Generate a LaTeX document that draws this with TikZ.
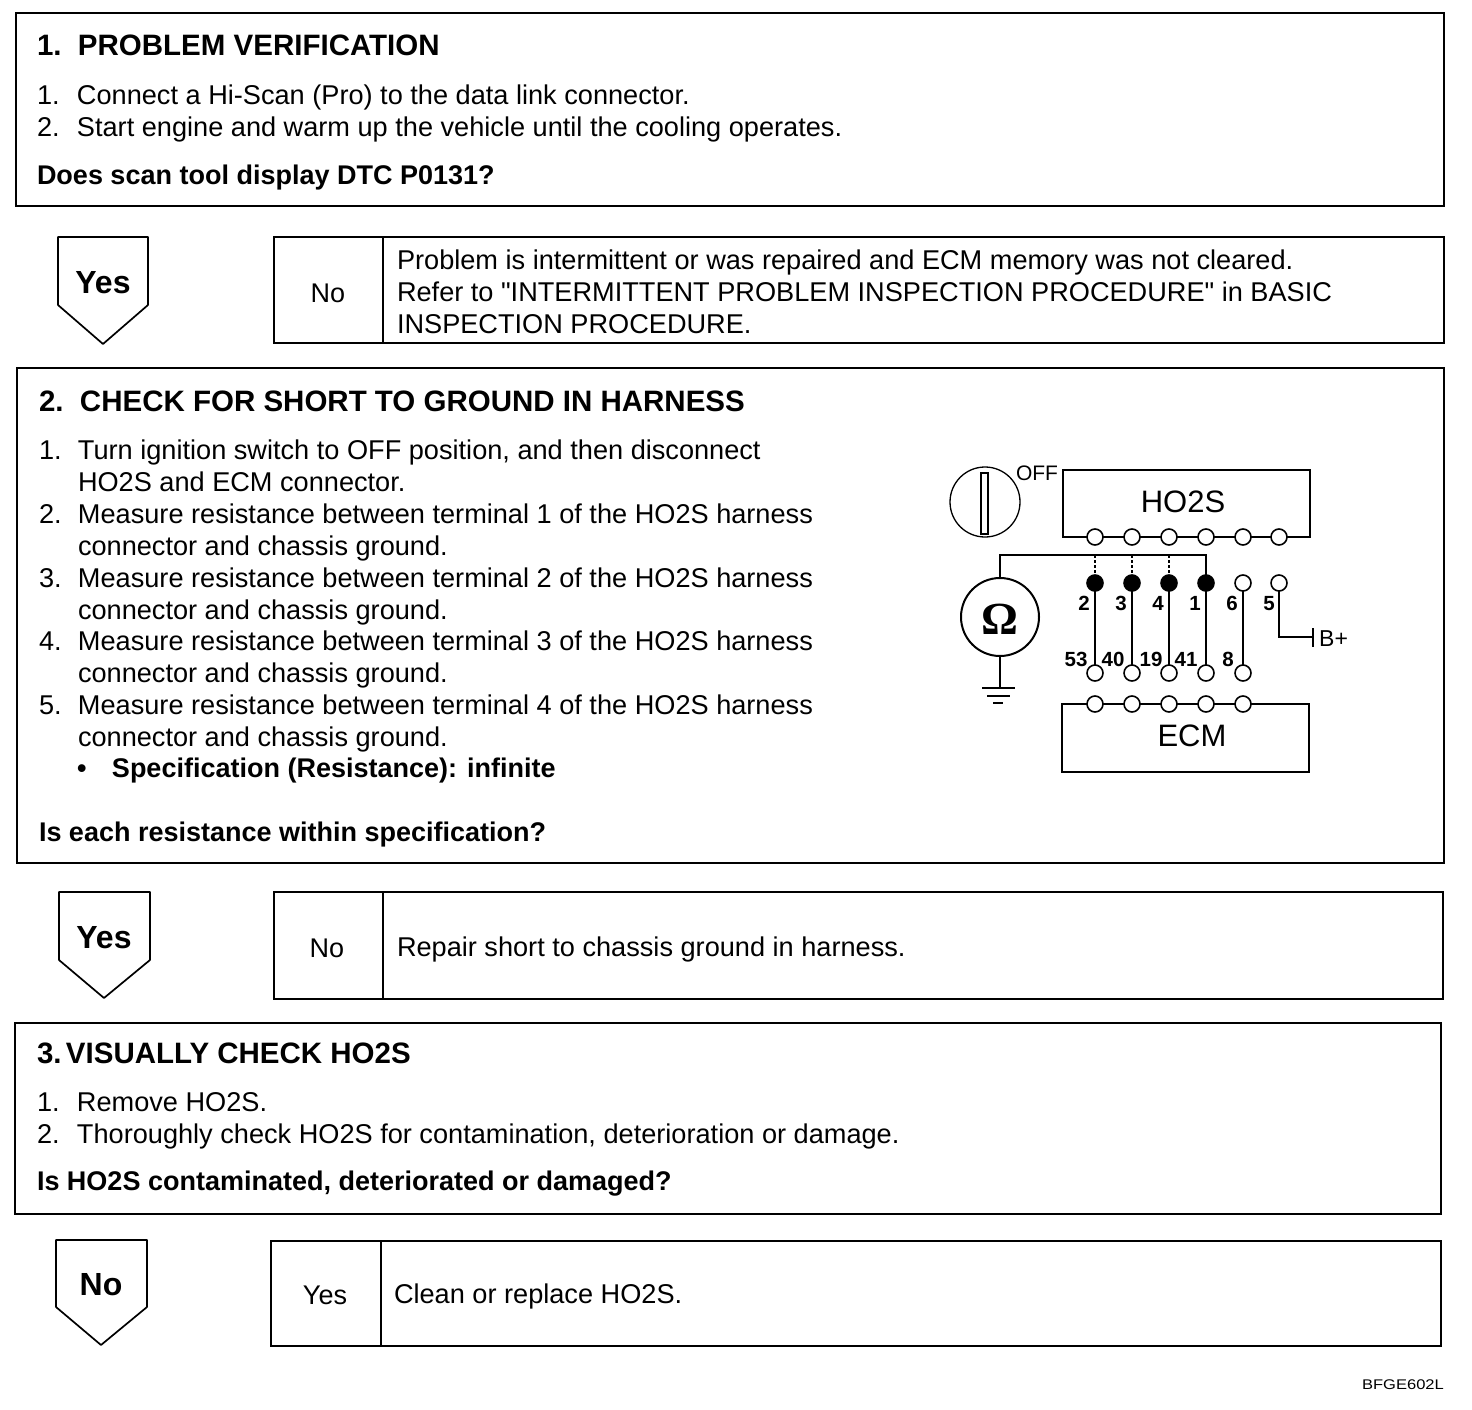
\documentclass[tikz,border=0pt]{standalone}
\usepackage{fontspec}
\setmainfont{Liberation Sans}
\newfontfamily\symfont{Liberation Serif}
\newfontfamily\rawfont{Liberation Sans}
\newcommand{\itm}[2]{\makebox[#1pt][l]{#2}}
\newcommand{\qmark}{{\rawfont "}}
\tikzset{
  x=1pt,y=-1pt,
  panel/.style={draw=black,line width=1.7pt,fill=white,rectangle,inner sep=0pt,outer sep=0pt},
  rule/.style={draw=black,line width=1.7pt},
  body/.style={anchor=base west,inner sep=0pt,outer sep=0pt,font=\fontsize{27.15}{28}\selectfont},
  boldbody/.style={body,font=\fontsize{27}{28}\selectfont\bfseries},
  heading/.style={body,font=\fontsize{29.5}{32}\selectfont\bfseries},
  answer/.style={inner sep=0pt,font=\fontsize{27}{28}\selectfont},
  flag/.style={inner sep=0pt,font=\fontsize{32}{34}\selectfont\bfseries},
  term/.style={circle,draw=black,line width=1.6pt,fill=white,minimum size=16pt,inner sep=0pt,outer sep=0pt},
  termon/.style={term,fill=black},
  wire/.style={draw=black,line width=1.8pt},
  probe/.style={draw=black,line width=1.3pt,densely dashed},
  pin/.style={inner sep=0pt,font=\fontsize{20.5}{22}\selectfont\bfseries},
}
\begin{document}
\begin{tikzpicture}
\useasboundingbox (0,0) rectangle (1472,1410);
% --- panels
\node[panel,minimum width=1428pt,minimum height=193pt] (p1) at (730,109.5) {};
\node[panel,minimum width=1170pt,minimum height=106pt] (a1) at (859,290) {};
\node[panel,minimum width=1427pt,minimum height=495pt] (p2) at (730.5,615.5) {};
\node[panel,minimum width=1169pt,minimum height=107pt] (a2) at (858.5,945.5) {};
\node[panel,minimum width=1426pt,minimum height=191pt] (p3) at (728,1118.5) {};
\node[panel,minimum width=1170pt,minimum height=105pt] (a3) at (856,1293.5) {};
\draw[rule] (383,237) -- (383,343);
\draw[rule] (383,892) -- (383,999);
\draw[rule] (381,1241) -- (381,1346);
% --- flags
\draw[rule,line join=round] (58,237) -- (148,237) -- (148,305) -- (103,344) -- (58,305) -- cycle;
\draw[rule,line join=round] (59,892) -- (150,892) -- (150,960) -- (104,998) -- (59,960) -- cycle;
\draw[rule,line join=round] (56,1240) -- (147,1240) -- (147,1307) -- (101,1345) -- (56,1307) -- cycle;
\node[flag] (f1) at (103,283) {Yes};
\node[flag] (f2) at (104,938) {Yes};
\node[flag] (f3) at (101,1285) {No};
\node[answer] (n1) at (328,293) {No};
\node[answer] (n2) at (327,948) {No};
\node[answer] (n3) at (325,1295) {Yes};
% --- section 1
\node[heading] (t1) at (37,56) {\itm{41}{1.}PROBLEM VERIFICATION};
\node[body] (s11) at (37,104.5) {\itm{40}{1.}Connect a Hi-Scan (Pro) to the data link connector.};
\node[body] (s12) at (37,136) {\itm{40}{2.}Start engine and warm up the vehicle until the cooling operates.};
\node[boldbody] (q1) at (37,184) {Does scan tool display DTC P0131?};
\node[body] (r11) at (397,269) {Problem is intermittent or was repaired and ECM memory was not cleared.};
\node[body] (r12) at (397,301) {Refer to \qmark INTERMITTENT PROBLEM INSPECTION PROCEDURE\qmark{} in BASIC};
\node[body] (r13) at (397,333) {INSPECTION PROCEDURE.};
% --- section 2
\node[heading] (t2) at (39,411) {\itm{41}{2.}CHECK FOR SHORT TO GROUND IN HARNESS};
\node[body] (s21) at (39,459.5) {\itm{39}{1.}Turn ignition switch to OFF position, and then disconnect};
\node[body] (s22) at (78,491) {HO2S and ECM connector.};
\node[body] (s23) at (39,523) {\itm{39}{2.}Measure resistance between terminal 1 of the HO2S harness};
\node[body] (s24) at (78,555) {connector and chassis ground.};
\node[body] (s25) at (39,587) {\itm{39}{3.}Measure resistance between terminal 2 of the HO2S harness};
\node[body] (s26) at (78,619) {connector and chassis ground.};
\node[body] (s27) at (39,650) {\itm{39}{4.}Measure resistance between terminal 3 of the HO2S harness};
\node[body] (s28) at (78,682) {connector and chassis ground.};
\node[body] (s29) at (39,714) {\itm{39}{5.}Measure resistance between terminal 4 of the HO2S harness};
\node[body] (s210) at (78,746) {connector and chassis ground.};
\node[boldbody] (s211) at (77,777) {\itm{35}{•}Specification (Resistance): infinite};
\node[boldbody] (q2) at (39,841) {Is each resistance within specification?};
\node[body] (r21) at (397,956) {Repair short to chassis ground in harness.};
% --- section 3
\node[heading] (t3) at (37,1063.5) {\itm{29}{3.}VISUALLY CHECK HO2S};
\node[body] (s31) at (37,1111) {\itm{40}{1.}Remove HO2S.};
\node[body] (s32) at (37,1143) {\itm{40}{2.}Thoroughly check HO2S for contamination, deterioration or damage.};
\node[boldbody] (q3) at (37,1190) {Is HO2S contaminated, deteriorated or damaged?};
\node[body] (r31) at (394,1303) {Clean or replace HO2S.};
% --- circuit
\node[panel,minimum width=247pt,minimum height=67pt] (hos) at (1186.5,503.5) {};
\node[panel,minimum width=247pt,minimum height=68pt] (ecm) at (1185.5,738) {};
\node[inner sep=0pt,font=\fontsize{31}{34}\selectfont] (hosl) at (1183,502) {HO2S};
\node[inner sep=0pt,font=\fontsize{31}{34}\selectfont] (ecml) at (1192,736) {ECM};
\node[circle,draw=black,line width=1.3pt,minimum size=70pt,inner sep=0pt] (key) at (985,502) {};
\node[draw=black,line width=1.3pt,fill=white,minimum width=7pt,minimum height=61pt,inner sep=0pt] (slot) at (984.5,503.5) {};
\node[inner sep=0pt,font=\fontsize{21}{22}\selectfont] (off) at (1037,473) {OFF};
\node[circle,draw=black,line width=2pt,minimum size=78pt,inner sep=0pt] (ohm) at (1000,617) {};
\node[inner sep=0pt,font=\fontsize{46}{46}\selectfont\symfont\bfseries] (ohml) at (1000,619) {Ω};
\foreach \n/\x in {1/1095,2/1132,3/1169,4/1206,5/1243,6/1279}{
  \node[term] (h\n) at (\x,537) {};
}
\foreach \n/\x in {1/1095,2/1132,3/1169,4/1206,5/1243}{
  \node[term] (e\n) at (\x,704) {};
  \node[term] (l\n) at (\x,673) {};
}
\node[termon] (u1) at (1095,583) {};
\node[termon] (u2) at (1132,583) {};
\node[termon] (u3) at (1169,583) {};
\node[termon] (u4) at (1206,583) {};
\node[term] (u5) at (1243,583) {};
\node[term] (u6) at (1279,583) {};
\foreach \n in {1,...,5}{ \draw[wire] (u\n) -- (l\n); }
\coordinate (bl) at (1000,555);
\coordinate (br) at (1206,555);
\draw[wire] (ohm.north) -- (bl) -- (br) -- (u4);
\coordinate (b1) at (1095,555);
\coordinate (b2) at (1132,555);
\coordinate (b3) at (1169,555);
\draw[probe] (b1) -- (u1);
\draw[probe] (b2) -- (u2);
\draw[probe] (b3) -- (u3);
\coordinate (gnd) at (1000,688);
\draw[wire] (ohm.south) -- (gnd);
\draw[wire] (982,688) -- (1015,688);
\draw[wire] (987,696) -- (1010,696);
\draw[wire] (993,703) -- (1003,703);
\coordinate (bk) at (1279,637);
\coordinate (bp) at (1313,637);
\draw[wire] (u6) -- (bk) -- (bp);
\draw[wire] (1313,628) -- (1313,647);
\node[anchor=base west,inner sep=0pt,font=\fontsize{23}{24}\selectfont] (bpl) at (1319,646) {B+};
\foreach \n/\t/\x in {a/2/1084,b/3/1121,c/4/1158,d/1/1195,e/6/1232,f/5/1269}{
  \node[pin,anchor=base] (up\n) at (\x,610) {\t};
}
\foreach \n/\t/\x in {a/53/1076,b/40/1113,c/19/1151,d/41/1186,e/8/1228}{
  \node[pin,anchor=base] (lo\n) at (\x,666) {\t};
}
\node[anchor=base east,inner sep=0pt,font=\fontsize{14}{16}\selectfont] (code) at (1444,1389) {\scalebox{1.18}[1]{BFGE602L}};
\end{tikzpicture}
\end{document}
